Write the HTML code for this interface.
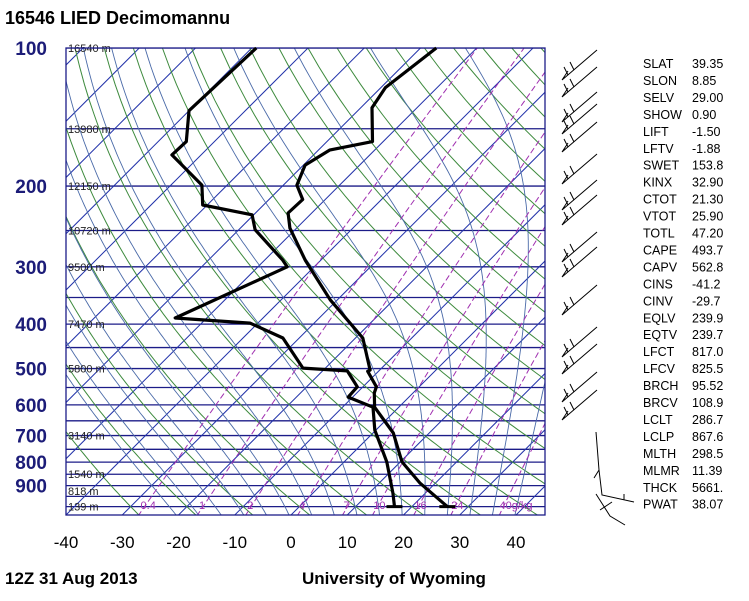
<!DOCTYPE html>
<html><head><meta charset="utf-8"><style>
body{margin:0;background:#fff;width:749px;height:601px;overflow:hidden;font-family:"Liberation Sans",sans-serif}
svg{position:absolute;left:0;top:0}
</style></head><body>
<svg id="c" width="749" height="601">
<defs><clipPath id="clip"><rect x="66" y="48" width="479" height="467"/></clipPath></defs>
<text x="5" y="24" font-size="18" font-weight="bold" fill="#000" font-family="Liberation Sans">16546 LIED Decimomannu</text>
<text x="5" y="584" font-size="17" font-weight="bold" fill="#000" font-family="Liberation Sans">12Z 31 Aug 2013</text>
<text x="302" y="584" font-size="17" font-weight="bold" fill="#000" font-family="Liberation Sans">University of Wyoming</text>
<g id="bg" clip-path="url(#clip)"></g>
<g id="fg"></g>
</svg>
<script>
const tempP=[100,122,135,160,167,180,199,214,229,247,290,354,429,504,507,548,565,607,691,799,888,1000];
const tempT=[-57.2,-59.2,-58,-51.9,-58,-59.7,-57.6,-54,-54.2,-51.2,-42.8,-31.3,-18.7,-11.7,-11.9,-7.6,-6.9,-4.3,3.6,10.3,17.2,26.3];
const dewP=[100,137,160,171,199,220,231,249,290,300,388,398,429,499,506,548,577,607,681,799,934,1000];
const dewT=[-89.2,-90,-85,-85.2,-74.5,-70.8,-60.3,-57.1,-46.8,-44.8,-55.6,-41.4,-32.9,-24,-15.6,-11,-10.8,-4.6,-0.2,7.6,14.2,16.9];
const pLabels=[100,200,300,400,500,600,700,800,900];
const tLabels=[-40,-30,-20,-10,0,10,20,30,40];
const hP=[100,150,200,250,300,400,500,700,850,925,1000];
const hLab=['16540 m','13980 m','12150 m','10720 m','9500 m','7470 m','5800 m','3140 m','1540 m','818 m','139 m'];
const mrVals=[0.4,1,2,4,7,10,16,24,40];
const mrLab=['0.4','1','2','4','7','10','16','24','40g/kg'];
const stats=[['SLAT','39.35'],['SLON','8.85'],['SELV','29.00'],['SHOW','0.90'],['LIFT','-1.50'],['LFTV','-1.88'],['SWET','153.8'],['KINX','32.90'],['CTOT','21.30'],['VTOT','25.90'],['TOTL','47.20'],['CAPE','493.7'],['CAPV','562.8'],['CINS','-41.2'],['CINV','-29.7'],['EQLV','239.9'],['EQTV','239.7'],['LFCT','817.0'],['LFCV','825.5'],['BRCH','95.52'],['BRCV','108.9'],['LCLT','286.7'],['LCLP','867.6'],['MLTH','298.5'],['MLMR','11.39'],['THCK','5661.'],['PWAT','38.07']];
const NS='http://www.w3.org/2000/svg';
const Y0=48,Y1=515,DEC=458.6,X0=291,K=5.625;
function yP(p){return Y0+DEC*Math.log10(p/100);}
function xT(t,p){return X0+K*t+(Y1-yP(p));}
const bg=document.getElementById('bg'),fg=document.getElementById('fg');
function el(tag,attrs,parent){const e=document.createElementNS(NS,tag);for(const k in attrs)e.setAttribute(k,attrs[k]);parent.appendChild(e);return e;}
function pathFrom(pts){return 'M'+pts.map(p=>p[0].toFixed(1)+','+p[1].toFixed(1)).join('L');}
const isoP=[];for(let p=100;p<=1050;p+=50)isoP.push(p);
isoP.forEach(p=>{const l=el('line',{x1:66,x2:545,y1:yP(p),y2:yP(p),stroke:'#1c1c88','stroke-width':1.3},bg);

});
for(let t=-120;t<=50;t+=10){const l=el('line',{x1:xT(t,1050),y1:yP(1050),x2:xT(t,100),y2:yP(100),stroke:'#2233aa','stroke-width':1},bg);

}
for(let th=-30;th<=200;th+=10){const pts=[];for(let p=1050;p>=100;p-=10){const T=(th+273.15)*Math.pow(p/1000,0.286)-273.15;pts.push([xT(T,p),yP(p)]);}
const l=el('path',{d:pathFrom(pts),fill:'none',stroke:'#3d8a3d','stroke-width':1},bg);

}
function es(T){return 6.112*Math.exp(17.67*T/(T+243.5));}
for(let t0=-20;t0<=40;t0+=4){let T=t0+273.15;const pts=[];
for(let p=1050;p>=100;p-=5){pts.push([xT(T-273.15,p),yP(p)]);
const e=es(T-273.15);const rs=0.622*e/Math.max(p-e,1);const L=2.5e6,Rd=287,cp=1004;
const dTdp=(Rd*T+L*rs)/(p*(cp+L*L*rs*0.622/(Rd*T*T)));T-=dTdp*5;}
const l=el('path',{d:pathFrom(pts),fill:'none',stroke:'#4a6aa8','stroke-width':0.9},bg);

}
mrVals.forEach((w,i)=>{const pts=[];for(let p=1050;p>=100;p-=10){const e=w*p/(622+w);const a=Math.log(e/6.112);const T=243.5*a/(17.67-a);pts.push([xT(T,p),yP(p)]);}
const l=el('path',{d:pathFrom(pts),fill:'none',stroke:'#a030b0','stroke-width':1,'stroke-dasharray':'6,3'},bg);


const e=w*1000/(622+w),a=Math.log(e/6.112),T=243.5*a/(17.67-a);
const tx=el('text',{x:xT(T,1000)-4,y:509,'font-size':11,fill:'#a030b0','font-family':'Liberation Sans'},fg);tx.textContent=mrLab[i];

});
hP.forEach((p,i)=>{const t=el('text',{x:68,y:yP(p)+4,'font-size':11,fill:'#222','font-family':'Liberation Sans'},fg);t.textContent=hLab[i];

});
const fr=el('rect',{x:66,y:48,width:479,height:467,fill:'none',stroke:'#1c1c88','stroke-width':1.3},fg);


function prof(P,T,name){const pts=P.map((p,i)=>[xT(T[i],p),yP(p)]);const l=el('path',{d:pathFrom(pts),fill:'none',stroke:'#000','stroke-width':3.2,'stroke-linejoin':'round'},fg);


const b=pts[pts.length-1];const s=el('line',{x1:b[0]-8,x2:b[0]+8,y1:b[1],y2:b[1],stroke:'#000','stroke-width':3},fg);

}
prof(tempP,tempT,'temperature-line');prof(dewP,dewT,'dewpoint-line');
pLabels.forEach(p=>{const t=el('text',{x:47,y:yP(p)+7,'font-size':19,'font-weight':'bold',fill:'#1c1c78','text-anchor':'end','font-family':'Liberation Sans'},fg);t.textContent=p;

});
tLabels.forEach(v=>{const t=el('text',{x:X0+K*v,y:548,'font-size':17,fill:'#000','text-anchor':'middle','font-family':'Liberation Sans'},fg);t.textContent=v;

});
stats.forEach((s,i)=>{const y=68+i*16.95;const a=el('text',{x:643,y:y,'font-size':12.5,fill:'#000','font-family':'Liberation Sans'},fg);a.textContent=s[0];


const b=el('text',{x:692,y:y,'font-size':12.5,fill:'#000','font-family':'Liberation Sans'},fg);b.textContent=s[1];

});
const barbY=[58,75,100,112,130,162,188,203,240,255,293,335,352,380,398];
barbY.forEach(y=>{const g=el('path',{d:`M562,${y+22}L597,${y-8}M562,${y+22}l6,-9M568,${y+17}l-4,-8M574,${y+12}l-4,-8`,fill:'none',stroke:'#000','stroke-width':1},fg);

});
const lb=el('path',{d:'M596,432L599,470L594,478M599,470L602,495L634,502M624,500l0,-6M596,494L610,516L625,525M600,510l12,-8',fill:'none',stroke:'#000','stroke-width':1},fg);


</script>
</body></html>
